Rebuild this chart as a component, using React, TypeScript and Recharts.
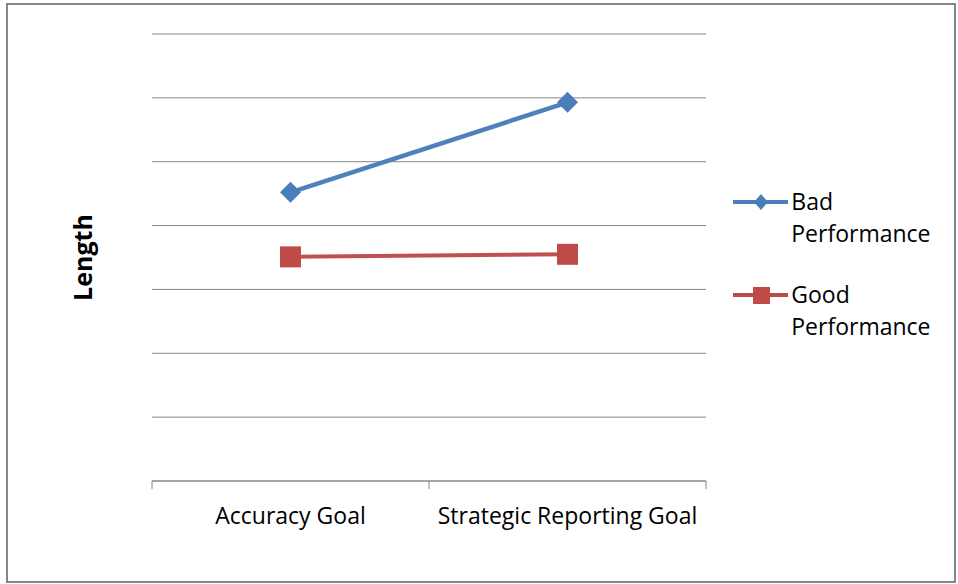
import { LineChart, Line, XAxis, YAxis, CartesianGrid, Legend, Label } from "recharts";

// Valores (escala sem rótulos, 0 a 7)
const categories = ["Accuracy Goal", "Strategic Reporting Goal"];
const badPerformance = [4.52, 5.93];
const goodPerformance = [3.51, 3.55];
const yTicks = [0, 1, 2, 3, 4, 5, 6, 7];

const data = categories.map((name, i) => ({
  name,
  bad: badPerformance[i],
  good: goodPerformance[i],
}));

const BLUE = "#4a7ebb";
const RED = "#be4b48";
const GRAY = "#868686";
const FONT = "'Open Sans', sans-serif";
const TICK_SIZE = 8;
const TICK_MARGIN = 19;

const DiamondDot = (props: any) => {
  const { cx, cy } = props;
  if (cx == null || cy == null) return null;
  const r = 10.5;
  return (
    <polygon
      points={`${cx},${cy - r} ${cx + r},${cy} ${cx},${cy + r} ${cx - r},${cy}`}
      fill={BLUE}
    />
  );
};

const SquareDot = (props: any) => {
  const { cx, cy } = props;
  if (cx == null || cy == null) return null;
  const s = 21;
  return <rect x={cx - s / 2} y={cy - s / 2} width={s} height={s} fill={RED} />;
};

// Rótulo da categoria + marcas nas fronteiras entre categorias (estilo Excel)
const CategoryTick = (props: any) => {
  const { x, y, payload, index, visibleTicksCount } = props;
  const half = payload?.offset ?? 0;
  const axisY = y - TICK_SIZE - TICK_MARGIN;
  const isLast = index === visibleTicksCount - 1;
  return (
    <g>
      <line x1={x - half} x2={x - half} y1={axisY} y2={axisY + TICK_SIZE} stroke={GRAY} />
      {isLast && (
        <line x1={x + half} x2={x + half} y1={axisY} y2={axisY + TICK_SIZE} stroke={GRAY} />
      )}
      <text
        x={x}
        y={y}
        dy={16}
        textAnchor="middle"
        fontFamily={FONT}
        fontSize={23}
        fill="#000"
      >
        {payload.value}
      </text>
    </g>
  );
};

const renderLegend = (props: any) => {
  const { payload = [] } = props;
  return (
    <div style={{ fontFamily: FONT, fontSize: 23, color: "#000" }}>
      {payload.map((entry: any) => {
        const isBad = entry.dataKey === "bad";
        const color = isBad ? BLUE : RED;
        return (
          <div key={entry.value} style={{ display: "flex", marginBottom: 29 }}>
            <svg width={58} height={32}>
              <line x1={1} x2={57} y1={17} y2={17} stroke={color} strokeWidth={4} />
              {isBad ? (
                <polygon points="29,9 36,17 29,25 22,17" fill={color} />
              ) : (
                <rect x={21} y={9} width={17} height={17} fill={color} />
              )}
            </svg>
            <div style={{ width: 145, lineHeight: "32px", marginLeft: 3 }}>{entry.value}</div>
          </div>
        );
      })}
    </div>
  );
};

const renderYLabel = (props: any) => {
  const { viewBox } = props;
  const cx = viewBox.x + viewBox.width / 2 + 16;
  const cy = viewBox.y + viewBox.height / 2;
  return (
    <text
      x={cx}
      y={cy}
      transform={`rotate(-90 ${cx} ${cy})`}
      textAnchor="middle"
      fontFamily={FONT}
      fontWeight={700}
      fontSize={25}
      fill="#000"
    >
      Length
    </text>
  );
};

// linhas horizontais da grelha a partir da escala do eixo Y
const gridRows = ({ yAxis }: any) => {
  const sc = yAxis?.scale;
  if (!sc) return [];
  const f = typeof sc === "function" ? sc : (v: number) => sc.map(v);
  return yTicks.map((t) => f(t));
};

export default function App() {
  return (
    <div style={{ position: "absolute", left: 0, top: 0, width: 958, height: 584, background: "#fff" }}>
      <div
        style={{
          position: "absolute",
          left: 6,
          top: 3,
          width: 950,
          height: 580,
          border: `2px solid ${GRAY}`,
          boxSizing: "border-box",
        }}
      />
      <LineChart
        width={958}
        height={584}
        data={data}
        margin={{ top: 34, right: 52, left: 0, bottom: 63 }}
        style={{ position: "absolute", left: 0, top: 0 }}
      >
        <CartesianGrid
          vertical={false}
          stroke={GRAY}
          strokeWidth={1}
          horizontalCoordinatesGenerator={gridRows}
        />
        <XAxis
          dataKey="name"
          scale="band"
          axisLine={{ stroke: GRAY }}
          tickLine={false}
          tickSize={TICK_SIZE}
          tickMargin={TICK_MARGIN}
          height={40}
          interval={0}
          tick={<CategoryTick />}
        />
        <YAxis
          domain={[0, 7]}
          ticks={yTicks}
          width={152}
          tick={false}
          axisLine={false}
          tickLine={false}
        >
          <Label content={renderYLabel} position="center" />
        </YAxis>
        <Legend
          layout="vertical"
          align="right"
          verticalAlign="middle"
          width={200}
          wrapperStyle={{ left: 732, top: 185 }}
          content={renderLegend}
        />
        <Line
          name="Bad Performance"
          dataKey="bad"
          stroke="#4f81bd"
          strokeWidth={4.5}
          dot={<DiamondDot />}
          activeDot={false}
          isAnimationActive={false}
        />
        <Line
          name="Good Performance"
          dataKey="good"
          stroke="#c0504d"
          strokeWidth={4}
          dot={<SquareDot />}
          activeDot={false}
          isAnimationActive={false}
        />
      </LineChart>
    </div>
  );
}
